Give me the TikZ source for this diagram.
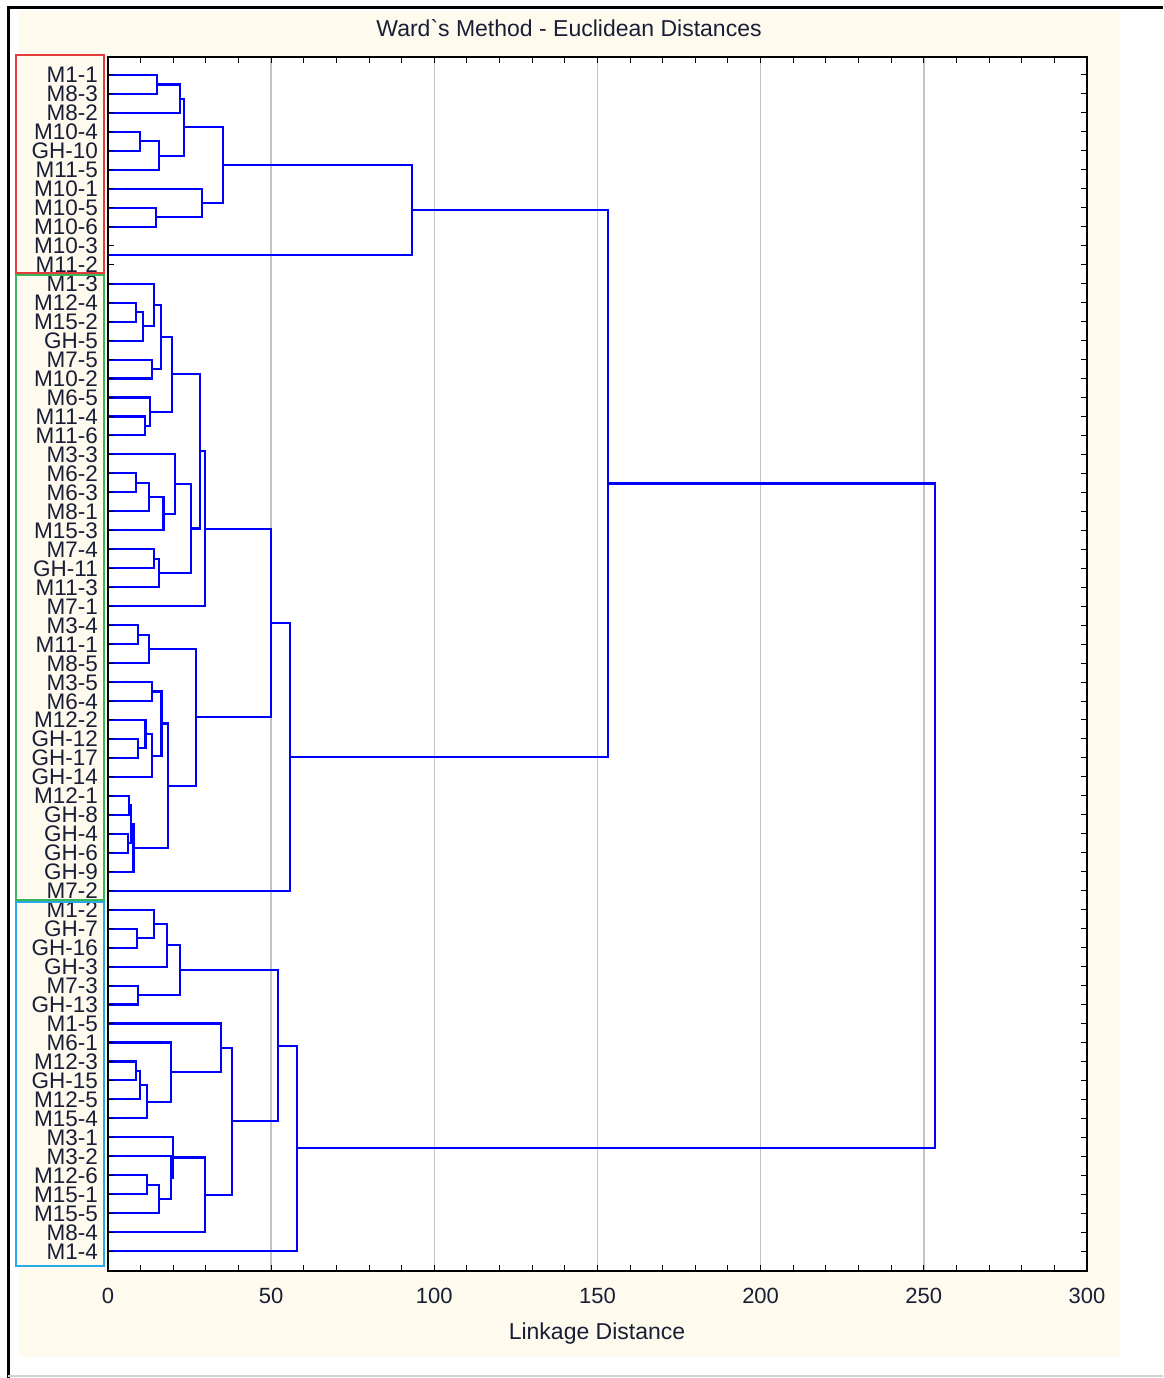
\documentclass[tikz,border=0pt]{standalone}
\usepackage{fontspec}
\setmainfont{Liberation Sans}
\usetikzlibrary{calc}
\definecolor{cream}{RGB}{255,250,238}
\definecolor{grpa}{RGB}{228,60,60}
\definecolor{grpb}{RGB}{60,180,90}
\definecolor{grpc}{RGB}{40,170,230}
\definecolor{lnkc}{RGB}{0,0,255}
\definecolor{gridc}{RGB}{195,195,195}
\definecolor{labc}{RGB}{25,30,55}
% distance -> picture x
\newcommand{\dpos}[1]{108+3.263*#1}
% join two clusters at a linkage distance
\newcommand{\mrg}[4]{%
  \coordinate (#1x) at ({\dpos{#4}},0);
  \coordinate (#1m) at ($(#2)!0.5!(#3)$);
  \coordinate (#1) at (#1m -| #1x);
  \draw[lnk] (#2) -| (#1) |- (#3);}

\begin{document}
\begin{tikzpicture}[x=1pt,y=-1pt,
  lnk/.style={lnkc,line width=2.1pt},
  ax/.style={black,line width=1.6pt},
  tk/.style={black,line width=1pt},
  grd/.style={gridc,line width=1.5pt},
  lab/.style={anchor=east,inner sep=0pt,text height=16pt,text depth=0pt,labc,
              font=\fontsize{22.5}{22.5}\selectfont},
  tkl/.style={inner sep=0pt,labc,font=\fontsize{22}{22}\selectfont},
  grp/.style={line width=1.8pt}]
 \useasboundingbox (0,0) rectangle (1163,1378);
 \fill[cream] (19,11) rectangle (1120,1357);
 \draw[black,line width=3pt] (8,1378) -- (8,8) -- (1163,8);
 \draw[gray!35,line width=1.5pt] (8,1376) -- (1163,1376);
 \fill[white] (108,57) rectangle (1087,1271);
 \node[tkl,font=\fontsize{23}{23}\selectfont] (ttl) at (569,28)
   {Ward\textasciigrave s Method - Euclidean Distances};

 % grid
 \foreach \v in {50,100,...,250}
   \draw[grd] ({\dpos{\v}},57) -- ({\dpos{\v}},1271);

 % leaves
 \foreach \s [count=\i from 0] in {M1-1,M8-3,M8-2,M10-4,GH-10,M11-5,M10-1,M10-5,M10-6,M10-3,M11-2,
   M1-3,M12-4,M15-2,GH-5,M7-5,M10-2,M6-5,M11-4,M11-6,M3-3,M6-2,M6-3,M8-1,M15-3,M7-4,GH-11,M11-3,
   M7-1,M3-4,M11-1,M8-5,M3-5,M6-4,M12-2,GH-12,GH-17,GH-14,M12-1,GH-8,GH-4,GH-6,GH-9,M7-2,
   M1-2,GH-7,GH-16,GH-3,M7-3,GH-13,M1-5,M6-1,M12-3,GH-15,M12-5,M15-4,M3-1,M3-2,M12-6,M15-1,
   M15-5,M8-4,M1-4}{
   \coordinate (l\i) at (108,{75+18.97*\i});
   \node[lab] (n\i) at (98,{75+18.97*\i}) {\s};
 }

 % red group
 \mrg{a1}{l0}{l1}{15.0}
 \mrg{a2}{a1}{l2}{22.0}
 \mrg{a3}{l3}{l4}{9.8}
 \mrg{a4}{a3}{l5}{15.6}
 \mrg{a5}{a2}{a4}{23.3}
 \mrg{a6}{l7}{l8}{14.7}
 \mrg{a7}{l6}{a6}{28.8}
 \mrg{a8}{a5}{a7}{35.3}
 \mrg{a9}{l9}{l10}{0}
 \mrg{a10}{a8}{a9}{93.2}
 % green group
 \mrg{b1}{l12}{l13}{8.5}
 \mrg{b2}{b1}{l14}{10.6}
 \mrg{b3}{l11}{b2}{14.1}
 \mrg{b4}{l15}{l16}{13.6}
 \mrg{b5}{b3}{b4}{16.2}
 \mrg{b6}{l18}{l19}{11.3}
 \mrg{b7}{l17}{b6}{12.9}
 \mrg{b8}{b5}{b7}{19.7}
 \mrg{b9}{l21}{l22}{8.5}
 \mrg{b10}{b9}{l23}{12.7}
 \mrg{b11}{b10}{l24}{17.0}
 \mrg{b12}{l20}{b11}{20.5}
 \mrg{b13}{l25}{l26}{14.1}
 \mrg{b14}{b13}{l27}{15.7}
 \mrg{b15}{b12}{b14}{25.3}
 \mrg{b16}{b8}{b15}{28.2}
 \mrg{b17}{b16}{l28}{29.7}
 \mrg{b18}{l29}{l30}{9.3}
 \mrg{b19}{b18}{l31}{12.7}
 \mrg{b20}{l32}{l33}{13.6}
 \mrg{b21}{l35}{l36}{9.1}
 \mrg{b22}{l34}{b21}{11.5}
 \mrg{b23}{b22}{l37}{13.6}
 \mrg{b24}{b20}{b23}{16.4}
 \mrg{b25}{l38}{l39}{6.5}
 \mrg{b26}{l40}{l41}{6.2}
 \mrg{b27}{b25}{b26}{7.0}
 \mrg{b28}{b27}{l42}{7.8}
 \mrg{b29}{b24}{b28}{18.5}
 \mrg{b30}{b19}{b29}{27.0}
 \mrg{b31}{b17}{b30}{50.0}
 \mrg{b32}{b31}{l43}{55.8}
 \mrg{r1}{a10}{b32}{153.2}
 % blue group
 \mrg{c1}{l45}{l46}{9.0}
 \mrg{c2}{l44}{c1}{14.1}
 \mrg{c3}{c2}{l47}{18.2}
 \mrg{c4}{l48}{l49}{9.1}
 \mrg{c5}{c3}{c4}{22.1}
 \mrg{c6}{l52}{l53}{8.5}
 \mrg{c7}{c6}{l54}{9.8}
 \mrg{c8}{c7}{l55}{11.9}
 \mrg{c9}{l51}{c8}{19.2}
 \mrg{c10}{l50}{c9}{34.5}
 \mrg{c11}{l58}{l59}{11.9}
 \mrg{c12}{c11}{l60}{15.6}
 \mrg{c13}{l57}{c12}{19.3}
 \mrg{c14}{l56}{c13}{19.9}
 \mrg{c15}{c14}{l61}{29.7}
 \mrg{c16}{c10}{c15}{38.1}
 \mrg{c17}{c5}{c16}{52.2}
 \mrg{c18}{c17}{l62}{57.9}
 \mrg{r2}{r1}{c18}{253.4}

 % axes and ticks
 \draw[ax] (108,57) rectangle (1087,1271);
 \foreach \v in {0,10,...,300}{
   \draw[tk] ({\dpos{\v}},57) -- ({\dpos{\v}},63);
   \draw[tk] ({\dpos{\v}},1271) -- ({\dpos{\v}},1265);
 }
 \foreach \i in {0,...,62}{
   \draw[tk] (108,{75+18.97*\i}) -- (114,{75+18.97*\i});
   \draw[tk] (1087,{75+18.97*\i}) -- (1081,{75+18.97*\i});
 }
 \foreach \v in {0,50,...,300}
   \node[tkl] (t\v) at ({\dpos{\v}},1296) {\v};
 \node[tkl,font=\fontsize{23}{23}\selectfont] (xlab) at (597,1334) {Linkage Distance};

 % group boxes
 \draw[grp,grpa] (16,55) rectangle (104,273);
 \draw[grp,grpb] (16,275) rectangle (104,900);
 \draw[grp,grpc] (16,902) rectangle (104,1266);
\end{tikzpicture}
\end{document}
